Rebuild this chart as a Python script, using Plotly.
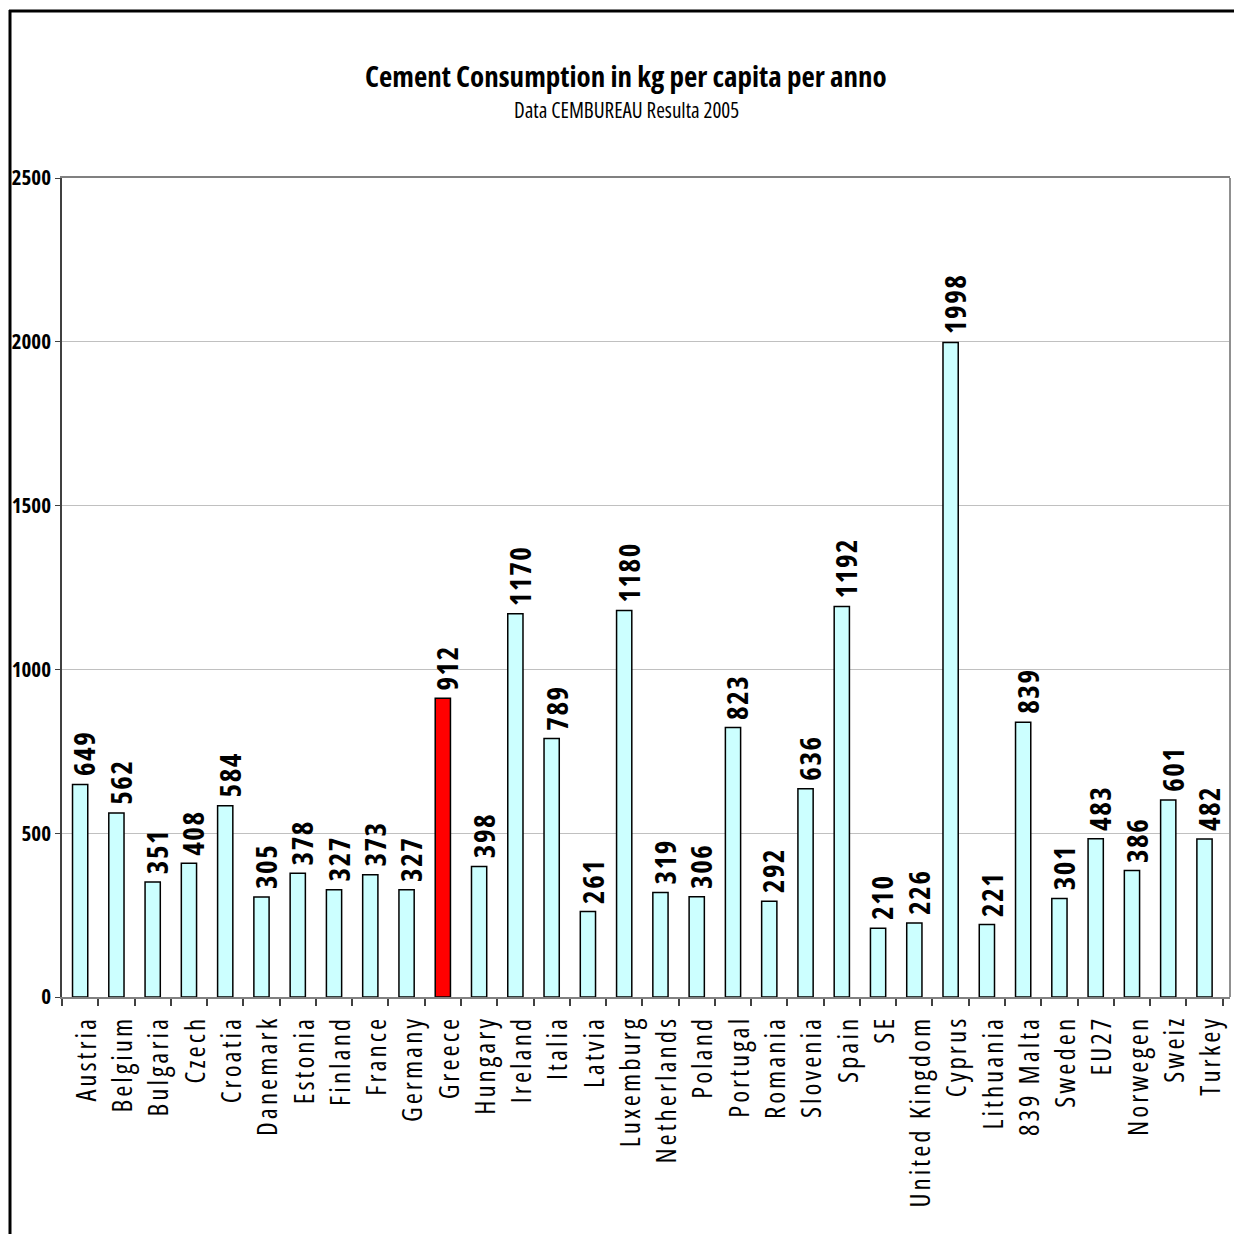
import plotly.graph_objects as go

categories = ["Austria", "Belgium", "Bulgaria", "Czech", "Croatia", "Danemark", "Estonia",
              "Finland", "France", "Germany", "Greece", "Hungary", "Ireland", "Italia",
              "Latvia", "Luxemburg", "Netherlands", "Poland", "Portugal", "Romania",
              "Slovenia", "Spain", "SE", "United Kingdom", "Cyprus", "Lithuania",
              "839 Malta", "Sweden", "EU27", "Norwegen", "Sweiz", "Turkey"]
values = [649, 562, 351, 408, 584, 305, 378, 327, 373, 327, 912, 398, 1170, 789,
          261, 1180, 319, 306, 823, 292, 636, 1192, 210, 226, 1998, 221, 839, 301,
          483, 386, 601, 482]
highlight = "Greece"
y_ticks = [0, 500, 1000, 1500, 2000, 2500]

title_text = "Cement Consumption in kg per capita per anno"
subtitle_text = "Data CEMBUREAU Resulta 2005"

W, H = 1234, 1234
L, R, T, B = 62, 1230, 178, 997
pw, ph = R - L, B - T

def px(x):
    return (x - L) / pw

def py(y):
    return (B - y) / ph

FAM = "Open Sans"

def styled(s, spacing=0):
    return f'<span style="font-stretch:75%;letter-spacing:{spacing}px">{s}</span>'

colors = ["#FF0000" if c == highlight else "#CCFFFF" for c in categories]

fig = go.Figure()
fig.add_trace(go.Bar(
    x=categories, y=values,
    width=0.42,
    marker=dict(color=colors, line=dict(color="black", width=1.5)),
    hoverinfo="skip",
))

value_labels = [
    dict(x=c, y=v, xref="x", yref="y", text=styled(f"<b>{v}</b>", 1.5),
         textangle=-90, showarrow=False, xanchor="center", yanchor="bottom",
         xshift=4, yshift=6,
         font=dict(family=FAM, size=29, color="black"))
    for c, v in zip(categories, values)
]

fig.update_layout(
    width=W, height=H,
    margin=dict(l=L, r=W - R, t=T, b=H - B),
    paper_bgcolor="white", plot_bgcolor="white",
    showlegend=False,
    xaxis=dict(
        type="category",
        tickvals=categories,
        ticktext=[styled(c, 3) for c in categories],
        tickangle=-90,
        tickfont=dict(family=FAM, size=27, color="black"),
        ticklabelshift=7, ticklabelstandoff=6,
        tickson="boundaries", ticks="outside", ticklen=7, tickcolor="#404040", tickwidth=1.5,
        showline=True, linecolor="#808080", linewidth=2, mirror=True,
        showgrid=False, zeroline=False, automargin=False,
    ),
    yaxis=dict(
        range=[0, 2500], tickvals=y_ticks,
        ticktext=[styled(f"<b>{v}</b>") for v in y_ticks],
        tickfont=dict(family=FAM, size=21, color="black"),
        ticks="outside", ticklen=5, tickcolor="#404040",
        showline=True, linecolor="#404040", linewidth=1.5,
        showgrid=True, gridcolor="#C0C0C0", gridwidth=1,
        zeroline=False, automargin=False,
    ),
    annotations=[
        dict(text=styled(f"<b>{title_text}</b>"), xref="paper", yref="paper",
             x=px(626), y=py(75), xanchor="center", yanchor="middle", showarrow=False,
             font=dict(family=FAM, size=29, color="black")),
        dict(text=styled(subtitle_text), xref="paper", yref="paper",
             x=px(626), y=py(110), xanchor="center", yanchor="middle", showarrow=False,
             font=dict(family=FAM, size=21, color="black")),
    ] + value_labels,
    shapes=[
        dict(type="line", xref="paper", yref="paper", x0=px(9), x1=px(1240), y0=py(11), y1=py(11),
             line=dict(color="black", width=3)),
        dict(type="line", xref="paper", yref="paper", x0=px(10), x1=px(10), y0=py(10), y1=py(1240),
             line=dict(color="black", width=3)),
        dict(type="line", xref="paper", yref="paper", x0=1, x1=1, y0=0, y1=1,
             line=dict(color="#909090", width=2)),
    ],
)

fig.write_html("out.html")
